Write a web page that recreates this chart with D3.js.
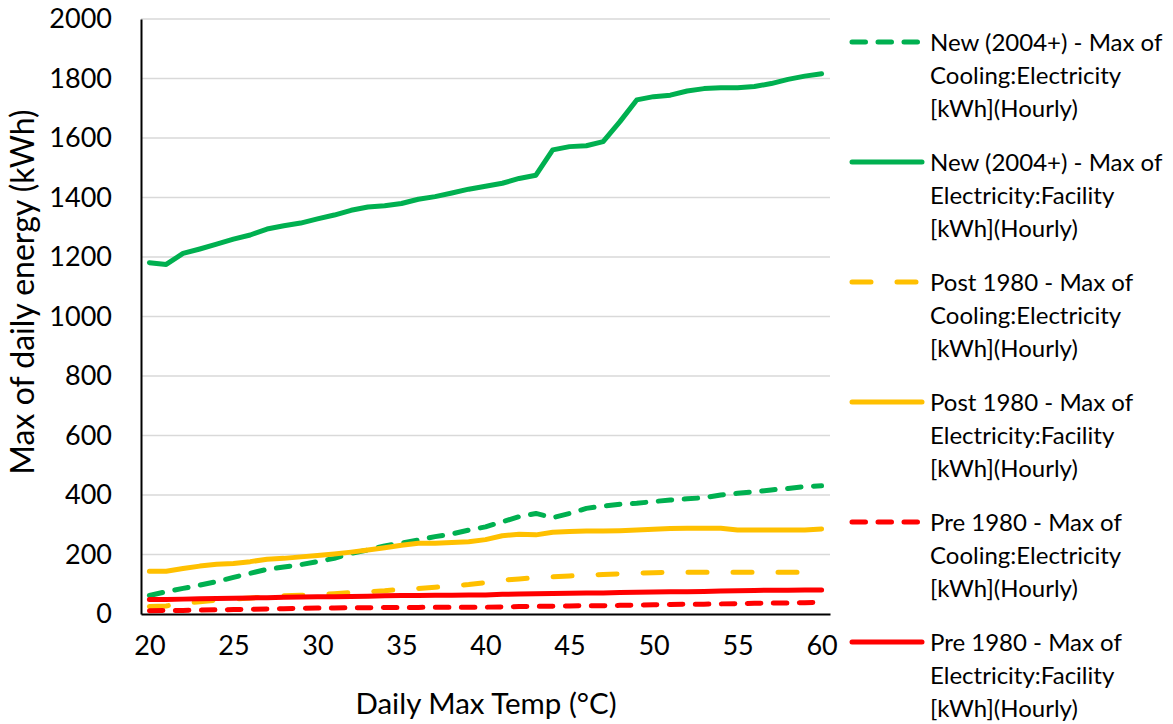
<!DOCTYPE html>
<html>
<head>
<meta charset="utf-8">
<script src="https://cdn.jsdelivr.net/npm/d3@7"></script>
<style>
  html, body { margin: 0; padding: 0; background: #fff; }
  svg { display: block; font-family: Lato, "Open Sans", sans-serif; }
</style>
</head>
<body>
<svg id="chart" width="1173" height="724"></svg>
<script>
// Daily max temperature categories (°C)
const temps = [20,21,22,23,24,25,26,27,28,29,30,31,32,33,34,35,36,37,38,39,40,
               41,42,43,44,45,46,47,48,49,50,51,52,53,54,55,56,57,58,59,60];

// Max of daily energy (kWh) per building vintage
const newCooling = [62,75,86,97,109,123,137,150,158,166,176,187,204,215,229,238,249,260,269,282,293,
                    310,327,338,324,338,355,363,369,372,378,383,387,391,400,406,411,417,422,428,431];
const newFacility = [1181,1175,1212,1227,1243,1260,1274,1294,1305,1314,1328,1341,1357,1368,1372,1380,1394,1403,1415,1428,1438,
                     1448,1464,1475,1560,1571,1574,1588,1655,1728,1739,1744,1758,1766,1769,1769,1773,1783,1797,1808,1816];
const postCooling = [25,27,36,41,47,50,54,57,61,63,65,68,72,75,78,83,86,90,95,99,105,
                     114,118,122,125,128,130,133,135,137,139,140,140,140,140,140,140,140,140,140,140];
const postFacility = [144,144,153,161,167,170,176,184,187,192,197,202,208,215,223,231,238,238,240,243,250,
                      263,268,266,275,277,279,279,280,282,285,287,288,288,288,282,282,282,282,282,286];
const preCooling = [11,12,12,13,14,15,16,17,18,19,20,20,21,21,22,22,22,23,23,23,23,
                    24,25,26,26,27,28,28,29,30,31,32,33,33,34,35,36,37,37,38,39];
const preFacility = [49,49,50,51,52,53,54,55,56,57,58,58,59,60,61,62,62,63,63,64,64,
                     66,67,68,69,70,71,71,72,73,74,75,75,76,77,78,79,80,80,81,81];

// Axis ticks
const yTicks = [0,200,400,600,800,1000,1200,1400,1600,1800,2000];
const xTicks = [20,25,30,35,40,45,50,55,60];

// Legend entries (label lines)
const seriesNames = [
  ["New (2004+) - Max of", "Cooling:Electricity", "[kWh](Hourly)"],
  ["New (2004+) - Max of", "Electricity:Facility", "[kWh](Hourly)"],
  ["Post 1980 - Max of", "Cooling:Electricity", "[kWh](Hourly)"],
  ["Post 1980 - Max of", "Electricity:Facility", "[kWh](Hourly)"],
  ["Pre 1980 - Max of", "Cooling:Electricity", "[kWh](Hourly)"],
  ["Pre 1980 - Max of", "Electricity:Facility", "[kWh](Hourly)"]
];
const seriesValues = [newCooling, newFacility, postCooling, postFacility, preCooling, preFacility];
const seriesColors = ["#00B050", "#00B050", "#FFC000", "#FFC000", "#FF0000", "#FF0000"];
const seriesDash = ["13.5,12.5", null, "19,26", null, "13.5,12.5", null];

const svg = d3.select("#chart");
const plot = { left: 141, right: 830, top: 19, bottom: 614 };

const x = d3.scaleLinear().domain([19.5, 60.5]).range([plot.left, plot.right]);
const y = d3.scaleLinear().domain([0, 2000]).range([plot.bottom, plot.top]);

// Gridlines
svg.append("g")
  .selectAll("line")
  .data(yTicks.filter(d => d > 0))
  .join("line")
  .attr("x1", plot.left).attr("x2", plot.right)
  .attr("y1", d => y(d)).attr("y2", d => y(d))
  .attr("stroke", "#D9D9D9").attr("stroke-width", 1.5);

// Y axis
const yAxis = svg.append("g")
  .attr("transform", `translate(${plot.left},0)`)
  .call(d3.axisLeft(y).tickValues(yTicks).tickSize(0).tickPadding(29).tickFormat(d3.format("d")));
yAxis.select(".domain").attr("stroke", "#000").attr("stroke-width", 2);
yAxis.selectAll("text")
  .attr("font-family", "Lato, sans-serif")
  .attr("font-size", 27).attr("fill", "#000");

// X axis
const xAxis = svg.append("g")
  .attr("transform", `translate(0,${plot.bottom})`)
  .call(d3.axisBottom(x).tickValues(xTicks).tickSize(0).tickPadding(22).tickFormat(d3.format("d")));
xAxis.select(".domain").attr("stroke", "#000").attr("stroke-width", 2);
xAxis.selectAll("text")
  .attr("font-family", "Lato, sans-serif")
  .attr("font-size", 27).attr("fill", "#000");

// Axis titles
svg.append("text")
  .attr("x", 486)
  .attr("y", 714)
  .attr("text-anchor", "middle")
  .attr("font-size", 29.5)
  .attr("fill", "#000")
  .text("Daily Max Temp (°C)");

svg.append("text")
  .attr("transform", "translate(34,292) rotate(-90)")
  .attr("text-anchor", "middle")
  .attr("font-size", 32)
  .attr("fill", "#000")
  .text("Max of daily energy (kWh)");

// Series lines
const line = d3.line()
  .x((d, i) => x(temps[i]))
  .y(d => y(d));

svg.append("g")
  .selectAll("path")
  .data(seriesValues)
  .join("path")
  .attr("d", d => line(d))
  .attr("fill", "none")
  .attr("stroke", (d, i) => seriesColors[i])
  .attr("stroke-width", 5)
  .attr("stroke-linecap", "round")
  .attr("stroke-linejoin", "round")
  .attr("stroke-dasharray", (d, i) => seriesDash[i]);

// Legend
const legend = svg.append("g").attr("transform", "translate(852,42)");
const item = legend.selectAll("g")
  .data(seriesNames)
  .join("g")
  .attr("transform", (d, i) => `translate(0,${i * 120})`);

item.append("line")
  .attr("x1", 0).attr("x2", 70)
  .attr("y1", 0).attr("y2", 0)
  .attr("stroke", (d, i) => seriesColors[i])
  .attr("stroke-width", 5)
  .attr("stroke-linecap", "round")
  .attr("stroke-dasharray", (d, i) => seriesDash[i]);

item.append("text")
  .attr("x", 78)
  .attr("y", 0)
  .attr("font-size", 24)
  .attr("fill", "#000")
  .selectAll("tspan")
  .data(d => d)
  .join("tspan")
  .attr("x", 78)
  .attr("dy", (d, i) => i === 0 ? "0.36em" : "33.3px")
  .text(d => d);
</script>
</body>
</html>
